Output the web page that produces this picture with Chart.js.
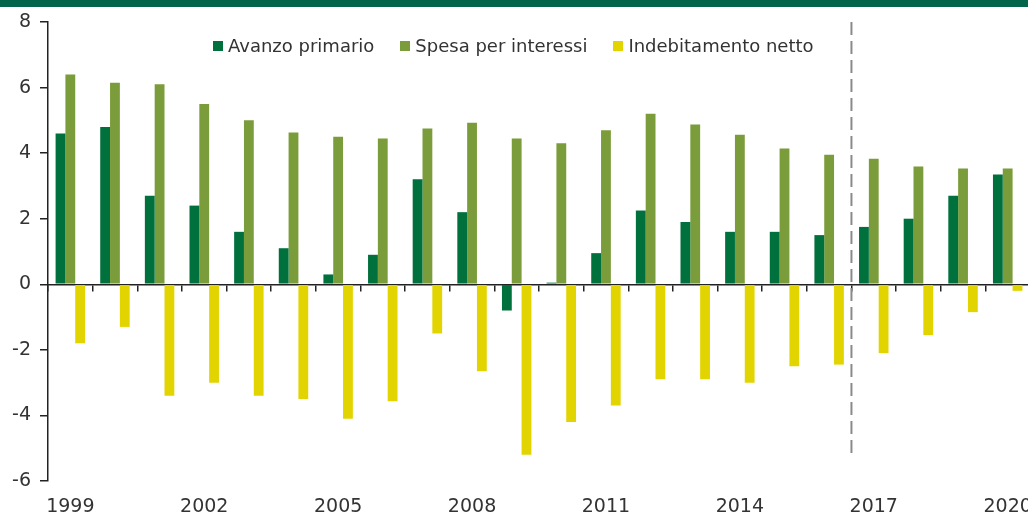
<!DOCTYPE html>
<html>
<head>
<meta charset="utf-8">
<script src="https://cdn.jsdelivr.net/npm/chart.js@4"></script>
<style>
html, body { margin: 0; padding: 0; background: #fff; overflow: hidden; }
#wrap { position: relative; width: 1080px; height: 516px; }
#header { position: absolute; left: 0; top: 0; width: 1028px; height: 7px; background: #00654a; z-index: 2; }
#legenda { position: absolute; left: 213px; top: 36px; display: flex; align-items: center;
           font-family: 'DejaVu Sans'; font-size: 18px; line-height: 20px; color: #333; white-space: nowrap; }
#legenda .voce { display: flex; align-items: center; margin-right: 26px; }
#legenda .box { width: 10px; height: 10px; margin-right: 5px; }
</style>
</head>
<body>
<div id="wrap">
  <div id="header"></div>
  <canvas id="chart" width="1080" height="516"></canvas>
  <div id="legenda"></div>
</div>
<script>
// dati (% del PIL)
const anni = ['1999','2000','2001','2002','2003','2004','2005','2006','2007','2008','2009',
              '2010','2011','2012','2013','2014','2015','2016','2017','2018','2019','2020'];
const avanzoPrimario = [4.6, 4.8, 2.7, 2.4, 1.6, 1.1, 0.3, 0.9, 3.2, 2.2, -0.8,
                        0.05, 0.95, 2.25, 1.9, 1.6, 1.6, 1.5, 1.75, 2.0, 2.7, 3.35];
const spesaInteressi = [6.4, 6.15, 6.1, 5.5, 5.0, 4.63, 4.5, 4.45, 4.75, 4.93, 4.45,
                        4.3, 4.7, 5.2, 4.87, 4.56, 4.14, 3.95, 3.83, 3.59, 3.53, 3.53];
const indebitamento = [-1.8, -1.3, -3.4, -3.0, -3.4, -3.5, -4.1, -3.57, -1.5, -2.65, -5.2,
                       -4.2, -3.7, -2.9, -2.9, -3.0, -2.5, -2.45, -2.1, -1.55, -0.85, -0.2];
const etichetteAnni = ['1999','2002','2005','2008','2011','2014','2017','2020'];
const ultimoConsuntivo = '2016'; // dopo questo anno linea tratteggiata
const yMin = -6, yMax = 8, yStep = 2;

const fontTick = { family: 'DejaVu Sans', size: 19 };

// linea tratteggiata tra consuntivo e previsioni
const lineaPrevisioni = {
    id: 'lineaPrevisioni',
    afterDatasetsDraw(chart) {
        const x = chart.scales.x;
        const y = chart.scales.y;
        const i = anni.indexOf(ultimoConsuntivo);
        const px = (x.getPixelForValue(i) + x.getPixelForValue(i + 1)) / 2;
        const ctx = chart.ctx;
        ctx.save();
        ctx.strokeStyle = '#8a8a8a';
        ctx.lineWidth = 2;
        ctx.setLineDash([13, 6]);
        ctx.beginPath();
        ctx.moveTo(px, y.getPixelForValue(yMax));
        ctx.lineTo(px, y.getPixelForValue(-5.3));
        ctx.stroke();
        ctx.restore();
    }
};

let ctx = document.getElementById('chart').getContext('2d');
let chart = new Chart(ctx, {
    type: 'bar',
    data: {
        labels: anni,
        datasets: [{
            label: 'Avanzo primario',
            data: avanzoPrimario,
            backgroundColor: '#00703c'
        }, {
            label: 'Spesa per interessi',
            data: spesaInteressi,
            backgroundColor: '#7b9c3a'
        }, {
            label: 'Indebitamento netto',
            data: indebitamento,
            backgroundColor: '#e2d400'
        }]
    },
    options: {
        responsive: false,
        animation: false,
        // il grafico originale e' tagliato a destra: l'area arriva al bordo della finestra
        layout: { padding: { top: 22, right: 50, left: 0, bottom: 0 } },
        datasets: { bar: { categoryPercentage: 0.66, barPercentage: 1.0 } },
        scales: {
            x: {
                type: 'category',
                offset: true,
                grid: { display: false, drawTicks: false },
                border: { display: false },
                afterFit: (s) => { s.height = 35; },
                ticks: {
                    autoSkip: false,
                    maxRotation: 0,
                    padding: 15,
                    color: '#333',
                    font: fontTick,
                    callback: function(v) {
                        const l = this.getLabelForValue(v);
                        return etichetteAnni.includes(l) ? l : '';
                    }
                }
            },
            x0: {
                type: 'category',
                position: { y: 0 },
                offset: true,
                grid: { offset: true, drawOnChartArea: false, drawTicks: true, tickLength: 6, color: '#222', lineWidth: 1.5 },
                border: { display: true, color: '#222', width: 1.5 },
                ticks: { display: false }
            },
            y: {
                min: yMin,
                max: yMax,
                afterFit: (s) => { s.width = 48; },
                grid: { drawOnChartArea: false, drawTicks: true, tickLength: 8, color: '#222', lineWidth: 1.5 },
                border: { display: true, color: '#222', width: 1.5 },
                ticks: { stepSize: yStep, padding: 9, color: '#333', font: fontTick }
            }
        },
        plugins: {
            legend: { display: false },
            tooltip: { enabled: false }
        }
    },
    plugins: [lineaPrevisioni]
});

// legenda in HTML costruita dai dataset
const legenda = document.getElementById('legenda');
chart.data.datasets.forEach(function(ds) {
    const voce = document.createElement('div');
    voce.className = 'voce';
    const box = document.createElement('span');
    box.className = 'box';
    box.style.background = ds.backgroundColor;
    const testo = document.createElement('span');
    testo.textContent = ds.label;
    voce.appendChild(box);
    voce.appendChild(testo);
    legenda.appendChild(voce);
});
</script>
</body>
</html>
